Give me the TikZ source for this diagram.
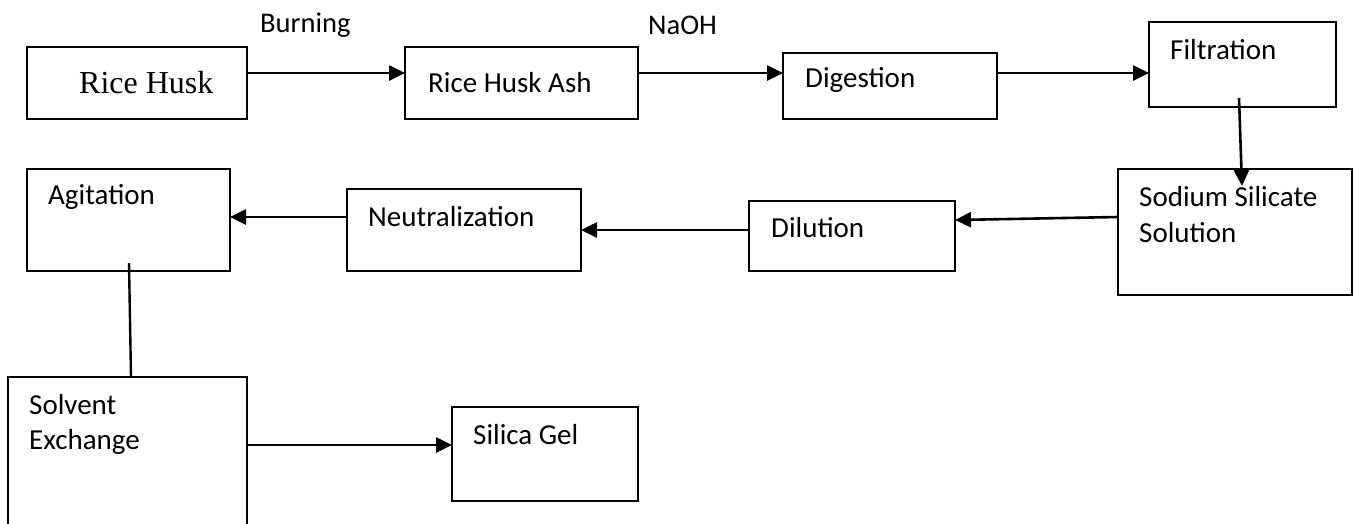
\documentclass[tikz,border=0pt]{standalone}
\usepackage{fontspec}
\setmainfont{Carlito}
\newfontfamily\serifrm{Liberation Serif}
\usetikzlibrary{arrows.meta,calc}
\tikzset{
  box/.style={draw, line width=2.2pt, rectangle, inner sep=0pt, outer sep=0pt},
  txt/.style={anchor=west, inner sep=0pt, font=\fontsize{29}{35}\selectfont},
  lbl/.style={anchor=west, inner sep=0pt, font=\fontsize{28.5}{34}\selectfont},
  arr/.style={line width=2.6pt, -{Triangle[length=16pt,width=15pt]}},
  ln/.style={line width=2.4pt},
}
\begin{document}
\begin{tikzpicture}[x=1pt,y=-1pt]
\useasboundingbox (0,0) rectangle (1354,523);
\clip (0,0) rectangle (1354,523);
\fill[white] (0,0) rectangle (1354,523);
% boxes
\node[box, minimum width=220pt, minimum height=72pt] (rh) at (137,83) {};
\node[box, minimum width=233pt, minimum height=72pt] (rha) at (521.5,83) {};
\node[box, minimum width=214pt, minimum height=66pt] (dig) at (890,86) {};
\node[box, minimum width=187pt, minimum height=85pt] (fil) at (1242.5,64.5) {};
\node[box, minimum width=234pt, minimum height=126pt] (sss) at (1235,232) {};
\node[box, minimum width=206pt, minimum height=70pt] (dil) at (852,236) {};
\node[box, minimum width=234pt, minimum height=82pt] (neu) at (464,230) {};
\node[box, minimum width=203pt, minimum height=102pt] (ag) at (128.5,220) {};
\node[box, minimum width=239pt, minimum height=186pt] (sol) at (127.5,470) {};
\node[box, minimum width=186pt, minimum height=94pt] (sg) at (545,454) {};
% texts
\node[lbl] (tburn) at (260,25) {Burning};
\node[lbl] (tnaoh) at (648,25) {NaOH};
\node[anchor=west, inner sep=0pt, font=\serifrm\fontsize{32}{38}\selectfont] (trh) at (79,83) {Rice Husk};
\node[txt] (trha) at (428,83) {Rice Husk Ash};
\node[txt] (tdig) at (805,80) {Digestion};
\node[txt] (tfil) at (1170,50) {Filtration};
\node[txt] (tsss1) at (1139,197) {Sodium Silicate};
\node[txt] (tsss2) at (1139,233) {Solution};
\node[txt] (tdil) at (771,228) {Dilution};
\node[txt] (tneu) at (368,217) {Neutralization};
\node[txt] (tag) at (48,197) {Agitation};
\node[txt] (tsol1) at (29,405) {Solvent};
\node[txt] (tsol2) at (29,442) {Exchange};
\node[txt] (tsg) at (473,435) {Silica Gel};
% connectors
\coordinate (ya) at (0,73);
\draw[arr] (rh.east |- ya) -- (rha.west |- ya);
\draw[arr] (rha.east |- ya) -- (dig.west |- ya);
\draw[arr] (dig.east |- ya) -- (fil.west |- ya);
\draw[arr] ($(fil.south west)+(90,-9)$) -- ($(sss.north west)+(124,17)$);
\draw[arr] ($(sss.west)+(0,-15)$) -- ($(dil.east)+(0,-16)$);
\draw[arr] ($(dil.west)+(0,-6)$) -- (neu.east);
\draw[arr] ($(neu.west)+(0,-13)$) -- ($(ag.east)+(0,-3)$);
\draw[ln] ($(ag.south west)+(102,-8)$) -- ($(sol.north west)+(123,0)$);
\draw[arr] ($(sol.east)+(0,-25)$) -- ($(sg.west)+(0,-9)$);
\end{tikzpicture}
\end{document}
